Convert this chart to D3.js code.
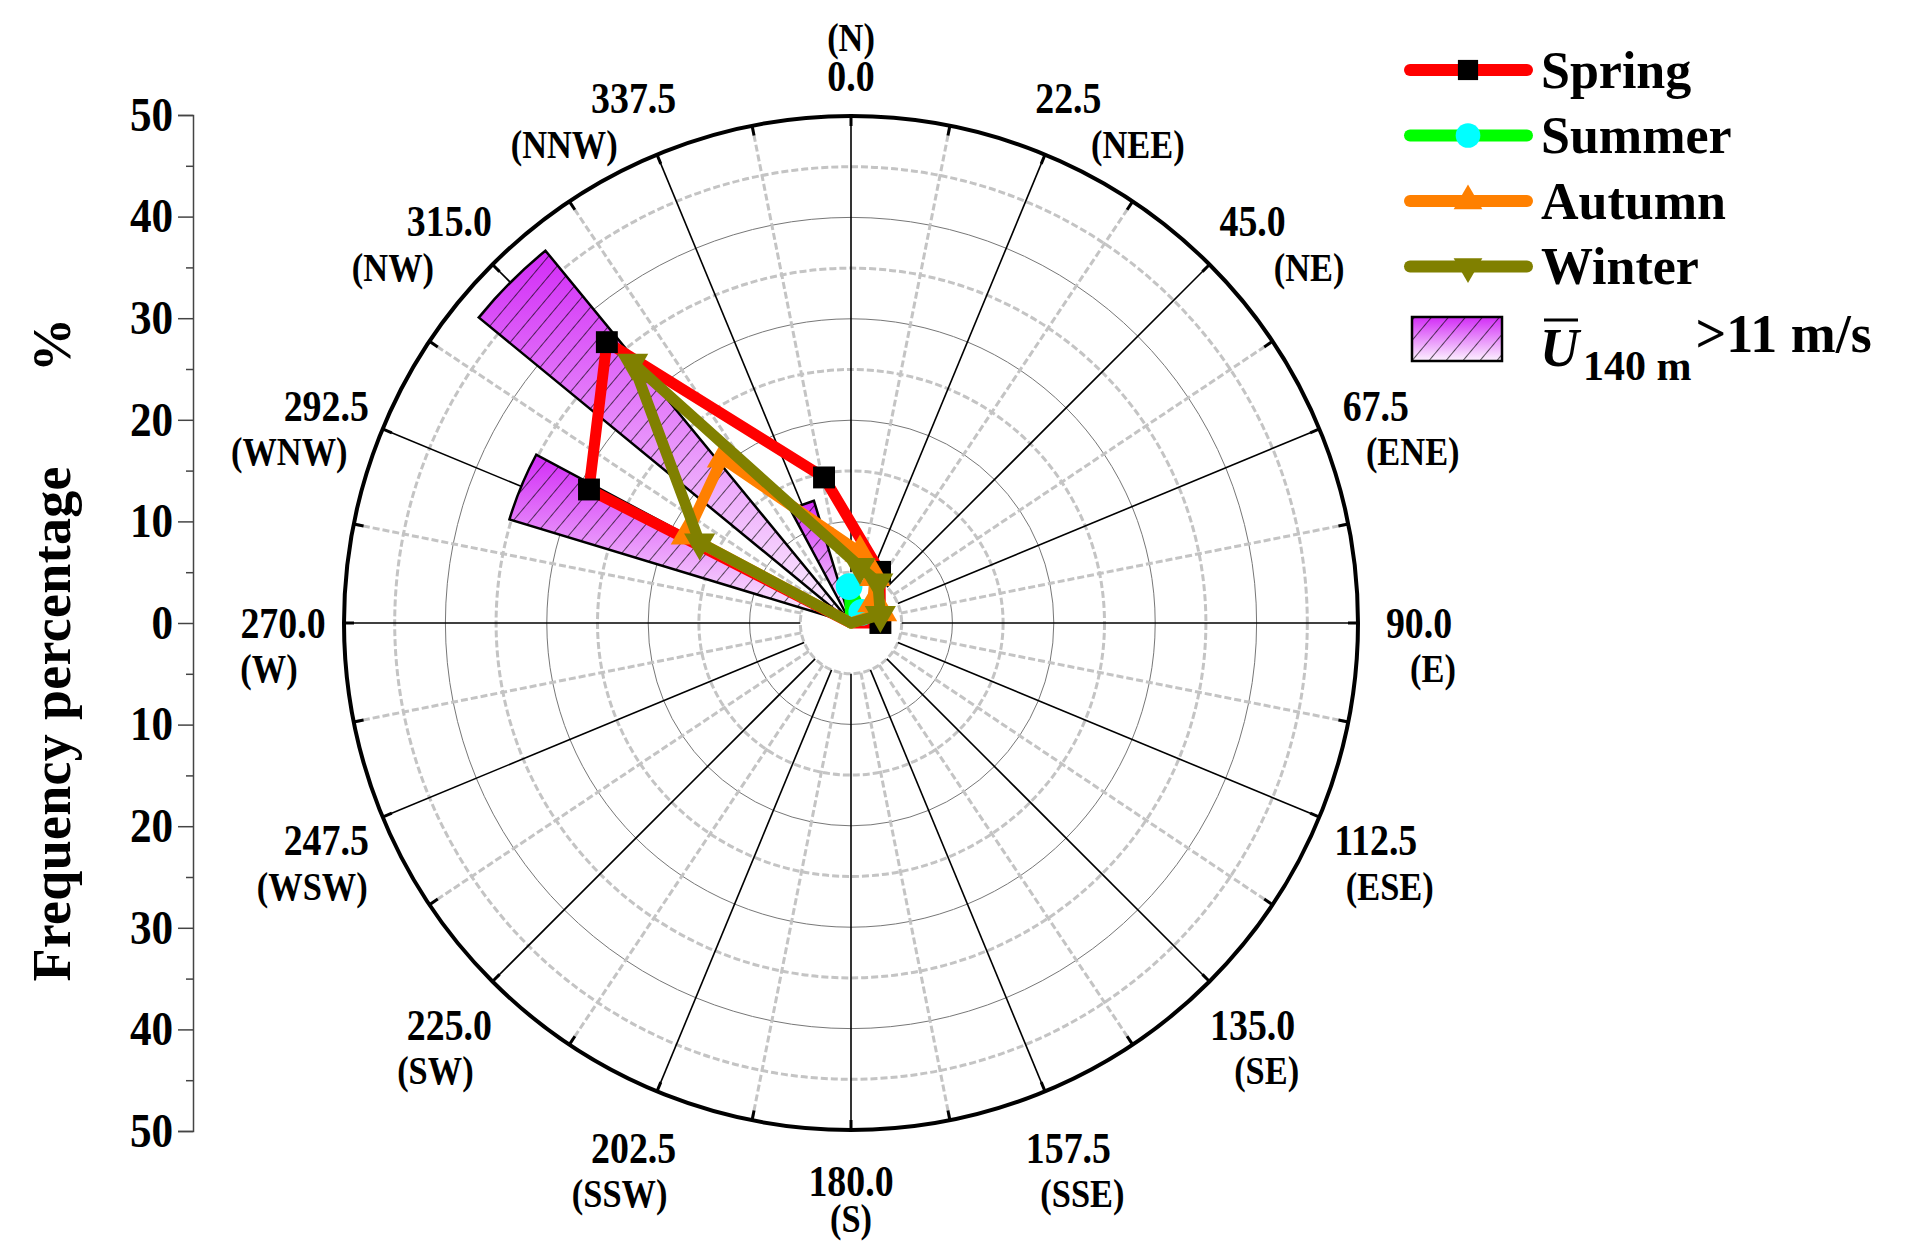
<!DOCTYPE html>
<html>
<head>
<meta charset="utf-8">
<script src="https://cdn.jsdelivr.net/npm/d3@7"></script>
<style>
  body { margin: 0; background: #fff; }
  text { font-family: "Liberation Serif", "Times New Roman", serif; font-weight: bold; }
</style>
</head>
<body>
<svg id="chart" width="1916" height="1248"></svg>
<script>
// Directions (deg, clockwise from north) and their names
const directions = [0, 22.5, 45, 67.5, 90, 112.5, 135, 157.5, 180, 202.5, 225, 247.5, 270, 292.5, 315, 337.5];
const dirNames = ['N', 'NEE', 'NE', 'ENE', 'E', 'ESE', 'SE', 'SSE', 'S', 'SSW', 'SW', 'WSW', 'W', 'WNW', 'NW', 'NNW'];

// Frequency of U140m > 11 m/s per direction (%)
const barValues = [0, 0, 0, 0, 0, 0, 0, 0, 0, 0, 0, 0, 0, 35.2, 47.5, 12.6];

// Seasonal series: [direction deg, frequency %]
const spring = [[29.6, 5.8], [90, 2.9], [180, 0], [297, 29.0], [319, 36.7], [349.5, 14.6]];
const summer = [[45, 1.5], [180, 0], [357, 3.6]];
const autumn = [[7.3, 7.0], [27.5, 5.1], [47.7, 2.9], [70.5, 3.2], [180, 0], [298, 18.4], [322, 20.6]];
const winter = [[9.1, 5.6], [33.4, 4.8], [74.6, 3.0], [180, 0], [298, 16.9], [320, 33.5]];

const seriesNames = ['Spring', 'Summer', 'Autumn', 'Winter'];
const radialTicks = [5, 10, 15, 20, 25, 30, 35, 40, 45];
const axisTicks = [-50, -40, -30, -20, -10, 0, 10, 20, 30, 40, 50];

// Layout
const cx = 851, cy = 623, R = 507;
const svg = d3.select('#chart');
const rScale = d3.scaleLinear().domain([0, 50]).range([0, R]);
const rad = d => d * Math.PI / 180;
const px = (a, r) => cx + r * Math.sin(rad(a));
const py = (a, r) => cy - r * Math.cos(rad(a));

// narrow text like the reference's condensed serif
function label(x, y, txt, size) {
    svg.append('text').attr('transform', `translate(${x},${y}) scale(0.86,1)`)
        .attr('text-anchor', 'middle').attr('dominant-baseline', 'central')
        .attr('font-size', size).text(txt);
}

const defs = svg.append('defs');
const grad = defs.append('linearGradient').attr('id', 'barGrad')
    .attr('x1', 0).attr('y1', 0).attr('x2', 0).attr('y2', 1);
grad.append('stop').attr('offset', '0%').attr('stop-color', '#d22cf6');
grad.append('stop').attr('offset', '100%').attr('stop-color', '#fdf3ff');
const hatch = defs.append('pattern').attr('id', 'hatch').attr('patternUnits', 'userSpaceOnUse')
    .attr('width', 13).attr('height', 13).attr('patternTransform', 'rotate(40)');
hatch.append('line').attr('x1', 0).attr('y1', 0).attr('x2', 0).attr('y2', 13)
    .attr('stroke', '#000').attr('stroke-width', 1.3);

const g = svg.append('g').attr('transform', `translate(${cx},${cy})`);

// Rings
g.selectAll('.ring').data(radialTicks).join('circle')
    .attr('r', d => rScale(d)).attr('fill', 'none')
    .attr('stroke', d => d % 10 === 0 ? '#777' : '#c4c4c4')
    .attr('stroke-width', d => d % 10 === 0 ? 1 : 3)
    .attr('stroke-dasharray', d => d % 10 === 0 ? null : '7 3');

// Spokes
const minorDirs = directions.map(d => d + 11.25);
g.selectAll('.spokeMinor').data(minorDirs).join('line')
    .attr('x1', d => rScale(5) * Math.sin(rad(d))).attr('y1', d => -rScale(5) * Math.cos(rad(d)))
    .attr('x2', d => R * Math.sin(rad(d))).attr('y2', d => -R * Math.cos(rad(d)))
    .attr('stroke', '#c4c4c4').attr('stroke-width', 3).attr('stroke-dasharray', '7 3');
g.selectAll('.spoke').data(directions).join('line')
    .attr('x1', d => rScale(5) * Math.sin(rad(d))).attr('y1', d => -rScale(5) * Math.cos(rad(d)))
    .attr('x2', d => R * Math.sin(rad(d))).attr('y2', d => -R * Math.cos(rad(d)))
    .attr('stroke', '#000').attr('stroke-width', 1.6);

// Outer circle with ticks
g.append('circle').attr('r', R).attr('fill', 'none').attr('stroke', '#000').attr('stroke-width', 4);
g.selectAll('.otick').data(directions.concat(minorDirs)).join('line')
    .attr('x1', d => (R - 10) * Math.sin(rad(d))).attr('y1', d => -(R - 10) * Math.cos(rad(d)))
    .attr('x2', d => R * Math.sin(rad(d))).attr('y2', d => -R * Math.cos(rad(d)))
    .attr('stroke', '#000').attr('stroke-width', 3);

// Bars (wedges)
const arc = d3.arc().innerRadius(0)
    .outerRadius(d => rScale(d.v))
    .startAngle(d => rad(d.a - 5.625)).endAngle(d => rad(d.a + 5.625));
const bars = directions.map((a, i) => ({ a, v: barValues[i] })).filter(d => d.v > 0);
g.selectAll('.bar').data(bars).join('path').attr('d', arc).attr('fill', 'url(#barGrad)');
g.selectAll('.barHatch').data(bars).join('path').attr('d', arc)
    .attr('fill', 'url(#hatch)').attr('stroke', '#000').attr('stroke-width', 2.5);

// Series lines and markers
const series = [
    { name: 'Spring', data: spring, line: '#ff0000', mark: '#000', sym: d3.symbolSquare, size: 480, rot: 0 },
    { name: 'Summer', data: summer, line: '#00ff00', mark: '#00ffff', sym: d3.symbolCircle, size: 560, rot: 0 },
    { name: 'Autumn', data: autumn, line: '#ff8000', mark: '#ff8000', sym: d3.symbolTriangle, size: 420, rot: 0 },
    { name: 'Winter', data: winter, line: '#808000', mark: '#808000', sym: d3.symbolTriangle, size: 420, rot: 180 }
];
const radial = d3.lineRadial().angle(d => rad(d[0])).radius(d => rScale(d[1])).curve(d3.curveLinearClosed);
series.forEach(s => {
    g.append('path').attr('d', radial(s.data)).attr('fill', 'none')
        .attr('stroke', s.line).attr('stroke-width', 11).attr('stroke-linejoin', 'round');
    g.selectAll(null).data(s.data.filter(d => d[1] > 0)).join('path')
        .attr('d', d3.symbol().type(s.sym).size(s.size))
        .attr('transform', d => `translate(${rScale(d[1]) * Math.sin(rad(d[0]))},${-rScale(d[1]) * Math.cos(rad(d[0]))}) rotate(${s.rot})`)
        .attr('fill', s.mark);
});

// Direction labels
directions.forEach((a, i) => {
    const side = a > 0 && a < 180 ? 1 : (a > 180 ? -1 : 0);
    let numR = 568;
    if (a === 0) numR = 547;
    if (a === 180) numR = 558;
    const nx = px(a, numR), ny = py(a, numR);
    label(nx, ny, a.toFixed(1), 44);
    let ax = nx + side * (14 + 60 * Math.max(0, Math.cos(rad(a)))), ay = ny + 46;
    if (a === 0) ay = ny - 38;
    if (a === 180) ay = ny + 38;
    label(ax, ay, `(${dirNames[i]})`, 40);
});

// Left axis
const yScale = d3.scaleLinear().domain([-50, 50]).range([cy + R + 1, cy - R - 1]);
const yAxis = svg.append('g').attr('transform', 'translate(193,0)')
    .call(d3.axisLeft(yScale).tickValues(axisTicks).tickSize(15).tickFormat(d => Math.abs(d)));
svg.append('g').attr('transform', 'translate(193,0)')
    .call(d3.axisLeft(yScale).tickValues(d3.range(-45, 50, 10)).tickSize(7).tickFormat(''))
    .select('.domain').remove();
svg.selectAll('.tick line, .domain').attr('stroke', '#444').attr('stroke-width', 1.5);
yAxis.selectAll('text').attr('font-size', 48).attr('fill', '#000').attr('dx', -4)
    .attr('transform', 'scale(0.9,1)');

svg.append('text').attr('transform', 'translate(52,724) rotate(-90)')
    .attr('text-anchor', 'middle').attr('dominant-baseline', 'central')
    .attr('font-size', 54).attr('textLength', 515).attr('lengthAdjust', 'spacing')
    .text('Frequency percentage');
svg.append('text').attr('transform', 'translate(52,345) rotate(-90)')
    .attr('text-anchor', 'middle').attr('dominant-baseline', 'central')
    .attr('font-size', 54).text('%');

// Legend
const leg = svg.append('g');
series.forEach((s, i) => {
    const y = 70 + i * 65.5;
    leg.append('line').attr('x1', 1410).attr('x2', 1527).attr('y1', y).attr('y2', y)
        .attr('stroke', s.line).attr('stroke-width', 12).attr('stroke-linecap', 'round');
    leg.append('path').attr('d', d3.symbol().type(s.sym).size(s.size * 0.85))
        .attr('transform', `translate(1468,${y}) rotate(${s.rot})`).attr('fill', s.mark);
    leg.append('text').attr('x', 1541).attr('y', y).attr('dominant-baseline', 'central')
        .attr('font-size', 52).text(seriesNames[i]);
});
leg.append('rect').attr('x', 1412).attr('y', 317).attr('width', 90).attr('height', 44)
    .attr('fill', 'url(#barGrad)');
leg.append('rect').attr('x', 1412).attr('y', 317).attr('width', 90).attr('height', 44)
    .attr('fill', 'url(#hatch)').attr('stroke', '#000').attr('stroke-width', 2.5);
const lt = leg.append('text').attr('x', 1540).attr('y', 366).attr('font-size', 54);
lt.append('tspan').attr('font-style', 'italic').text('U');
lt.append('tspan').attr('font-size', 42).attr('dy', 14).attr('dx', 4).text('140 m');
lt.append('tspan').attr('dy', -28).attr('dx', 4).text('>11 m/s');
leg.append('line').attr('x1', 1544).attr('x2', 1578).attr('y1', 320).attr('y2', 320)
    .attr('stroke', '#000').attr('stroke-width', 3);
</script>
</body>
</html>
